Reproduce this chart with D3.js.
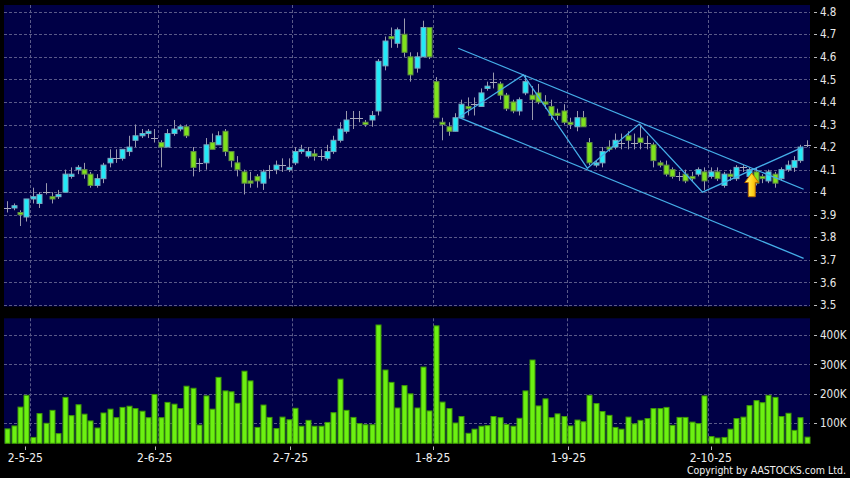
<!DOCTYPE html>
<html><head><meta charset="utf-8">
<script src="https://cdn.jsdelivr.net/npm/d3@7"></script>
<style>body{margin:0;background:#000;} svg{display:block;}</style>
</head><body><svg id="c" width="850" height="478"></svg>
<script>
// ---------- data ----------
const opens  = [3.93,3.93,3.91,3.89,3.97,3.95,4.00,3.98,3.98,4.00, 4.07,4.10,4.10,4.08,4.03,4.06,4.13,4.15,4.15,4.18,
                4.23,4.25,4.26,4.24,4.22,4.20,4.26,4.28,4.29,4.18, 4.13,4.13,4.22,4.21,4.27,4.18,4.13,4.09,4.05,4.07,
                4.04,4.10,4.10,4.12,4.10,4.13,4.18,4.16,4.17,4.16, 4.15,4.18,4.23,4.27,4.33,4.33,4.31,4.32,4.36,4.56,
                4.69,4.66,4.70,4.60,4.55,4.60,4.73,4.49,4.31,4.29, 4.27,4.33,4.38,4.39,4.38,4.46,4.49,4.48,4.43,4.40,
                4.36,4.44,4.43,4.44,4.40,4.38,4.35,4.36,4.31,4.29, 4.33,4.22,4.12,4.13,4.20,4.20,4.22,4.25,4.22,4.24,
                4.22,4.21,4.13,4.12,4.10,4.07,4.08,4.07,4.08,4.09, 4.07,4.09,4.03,4.08,4.06,4.11,4.07,4.09,4.07,4.05,
                4.08,4.06,4.10,4.11,4.14,4.21];
const highs  = [3.96,3.95,3.92,3.97,4.02,4.00,4.04,4.00,4.01,4.10, 4.11,4.12,4.13,4.09,4.08,4.13,4.19,4.19,4.19,4.25,
                4.30,4.28,4.28,4.28,4.23,4.28,4.32,4.30,4.30,4.20, 4.15,4.24,4.26,4.27,4.28,4.18,4.16,4.10,4.09,4.08,
                4.10,4.12,4.14,4.15,4.15,4.20,4.21,4.20,4.19,4.19, 4.21,4.25,4.31,4.36,4.36,4.36,4.32,4.36,4.59,4.69,
                4.73,4.73,4.77,4.62,4.62,4.76,4.73,4.51,4.33,4.31, 4.35,4.41,4.42,4.42,4.46,4.49,4.53,4.49,4.44,4.41,
                4.42,4.52,4.47,4.48,4.43,4.41,4.37,4.39,4.33,4.36, 4.36,4.24,4.14,4.20,4.23,4.26,4.26,4.27,4.26,4.30,
                4.25,4.22,4.14,4.14,4.11,4.09,4.10,4.09,4.11,4.11, 4.11,4.11,4.09,4.10,4.12,4.12,4.11,4.11,4.08,4.10,
                4.09,4.11,4.14,4.16,4.21,4.23];
const lows   = [3.91,3.92,3.85,3.87,3.95,3.93,3.99,3.95,3.97,4.00, 4.06,4.08,4.06,4.02,4.02,4.04,4.11,4.13,4.14,4.16,
                4.20,4.24,4.24,4.22,4.11,4.20,4.25,4.27,4.24,4.07, 4.09,4.10,4.19,4.21,4.16,4.11,4.07,3.99,4.02,4.02,
                4.01,4.06,4.08,4.09,4.09,4.12,4.17,4.15,4.14,4.14, 4.14,4.17,4.22,4.26,4.28,4.31,4.29,4.29,4.34,4.54,
                4.64,4.64,4.60,4.49,4.53,4.60,4.59,4.33,4.23,4.25, 4.27,4.33,4.34,4.34,4.38,4.45,4.46,4.41,4.36,4.35,
                4.34,4.43,4.32,4.39,4.37,4.32,4.32,4.30,4.28,4.27, 4.29,4.12,4.11,4.11,4.18,4.19,4.19,4.19,4.19,4.19,
                4.19,4.11,4.11,4.07,4.06,4.05,4.04,4.05,4.07,4.01, 4.06,4.05,4.02,4.05,4.05,4.09,4.05,4.03,4.04,4.04,
                4.02,4.05,4.09,4.09,4.13,4.20];
const closes = [3.93,3.94,3.90,3.97,3.98,3.99,4.00,3.97,3.99,4.08, 4.08,4.11,4.08,4.03,4.06,4.12,4.15,4.15,4.19,4.20,
                4.25,4.26,4.27,4.24,4.20,4.26,4.28,4.29,4.25,4.11, 4.13,4.21,4.19,4.25,4.18,4.14,4.10,4.04,4.04,4.05,
                4.09,4.10,4.12,4.12,4.11,4.18,4.19,4.18,4.16,4.16, 4.18,4.23,4.28,4.32,4.33,4.33,4.30,4.34,4.58,4.67,
                4.68,4.72,4.62,4.52,4.60,4.73,4.60,4.33,4.30,4.27, 4.33,4.39,4.37,4.39,4.44,4.47,4.49,4.43,4.37,4.36,
                4.41,4.49,4.41,4.40,4.39,4.34,4.34,4.31,4.30,4.33, 4.29,4.13,4.13,4.18,4.19,4.23,4.22,4.23,4.22,4.22,
                4.22,4.14,4.12,4.08,4.07,4.07,4.05,4.06,4.10,4.05, 4.09,4.06,4.08,4.07,4.11,4.11,4.10,4.04,4.06,4.09,
                4.04,4.10,4.12,4.14,4.20,4.21];
// volume in thousands of shares
const volumes = [81,91,155,195,52,133,100,144,65,188, 126,163,131,108,84,135,148,119,154,158,
                 150,141,119,198,119,171,165,150,226,219, 94,193,148,256,210,207,168,277,244,86,
                 162,120,82,121,112,151,90,110,90,90, 103,136,250,144,120,99,95,95,434,281,
                 239,152,228,200,152,291,142,431,172,150, 101,123,66,80,90,92,123,119,96,90,
                 117,210,315,159,183,119,132,123,91,111, 105,195,167,140,127,86,80,121,98,110,
                 116,150,150,154,93,120,120,104,99,193, 55,50,52,80,116,121,160,177,170,195,
                 188,123,134,76,119,53];
const monthStartIndex = [4,24,45,67,88,110];
const monthLabels = ["2-5-25","2-6-25","2-7-25","1-8-25","1-9-25","2-10-25"];
const priceTicks = [3.5,3.6,3.7,3.8,3.9,4.0,4.1,4.2,4.3,4.4,4.5,4.6,4.7,4.8];
const volumeTicks = [100,200,300,400];
const channelUpper = [[70.5,4.638],[124.5,4.013]];
const channelLower = [[70.6,4.332],[124.5,3.707]];
const zigzag = [[70.6,4.332],[80.7,4.52],[90.7,4.106],[98.8,4.302],[108.7,4.0],[124.4,4.20]];
const arrowMark = {index:116.4, tip:4.085, base:3.98};

// ---------- layout ----------
const W=850,H=478;
const L=4,R=810;
const pTop=5, pBot=306.5, vTop=318.3, vBot=443.3;
const n = closes.length;
const svg = d3.select("#c");
svg.append("rect").attr("width",W).attr("height",H).attr("fill","#000");

const x = d3.scaleLinear().domain([-0.5, n-0.5]).range([L,R]);
const xLab = d3.scaleLinear().domain([-0.5, n-0.5]).range([-0.5,814.2]);
const y = d3.scaleLinear().domain([3.5,4.8]).range([305,11.7]);
const yv = d3.scaleLinear().domain([100,400]).range([423.3,335]);
const bw = 5;
const FONT = "'DejaVu Sans Condensed','DejaVu Sans',sans-serif";
const bg = "#000046", gridC = "#5a5a88";

// panels
svg.append("rect").attr("x",L).attr("y",pTop).attr("width",R-L).attr("height",pBot-pTop).attr("fill",bg);
svg.append("rect").attr("x",L).attr("y",vTop).attr("width",R-L).attr("height",vBot-vTop).attr("fill",bg);

// grid price
const gP = svg.append("g").attr("stroke",gridC).attr("stroke-dasharray","3,2").attr("stroke-width",1);
gP.selectAll("line.h").data(priceTicks).join("line")
  .attr("x1",L).attr("x2",R).attr("y1",d=>Math.round(y(d))+0.5).attr("y2",d=>Math.round(y(d))+0.5);
gP.selectAll("line.v").data(monthStartIndex).join("line").attr("class","v")
  .attr("x1",d=>Math.round(x(d-0.5))+0.5).attr("x2",d=>Math.round(x(d-0.5))+0.5).attr("y1",pTop).attr("y2",pBot);
// grid volume
const gV = svg.append("g").attr("stroke",gridC).attr("stroke-dasharray","3,2").attr("stroke-width",1);
gV.selectAll("line.h").data(volumeTicks).join("line")
  .attr("x1",L).attr("x2",R).attr("y1",d=>Math.round(yv(d))+0.5).attr("y2",d=>Math.round(yv(d))+0.5);
gV.selectAll("line.v").data(monthStartIndex).join("line").attr("class","v")
  .attr("x1",d=>Math.round(x(d-0.5))+0.5).attr("x2",d=>Math.round(x(d-0.5))+0.5).attr("y1",vTop).attr("y2",vBot);

// candles
const data = d3.range(n).map(i=>({i,o:opens[i],h:highs[i],l:lows[i],c:closes[i],v:volumes[i]}));
const gc = svg.append("g");
gc.selectAll("line.w").data(data).join("line").attr("class","w")
  .attr("x1",d=>Math.round(x(d.i))+0.5).attr("x2",d=>Math.round(x(d.i))+0.5)
  .attr("y1",d=>y(d.h)).attr("y2",d=>y(d.l)).attr("stroke","#9a9aae").attr("stroke-width",1);
const bodies = data.filter(d=>d.o!==d.c);
gc.selectAll("rect.b").data(bodies).join("rect").attr("class","b")
  .attr("x",d=>Math.round(x(d.i))-bw/2+0.5).attr("width",bw)
  .attr("y",d=>y(Math.max(d.o,d.c))).attr("height",d=>Math.max(1,Math.abs(y(d.o)-y(d.c))))
  .attr("fill",d=>d.c>d.o?"#22eaf7":"#7fe21c")
  .attr("stroke",d=>d.c>d.o?"#7aa6c0":"#5f8c45").attr("stroke-width",1);
const dojis = data.filter(d=>d.o===d.c);
gc.selectAll("line.d").data(dojis).join("line").attr("class","d")
  .attr("x1",d=>Math.round(x(d.i))-3).attr("x2",d=>Math.round(x(d.i))+4)
  .attr("y1",d=>Math.round(y(d.c))+0.5).attr("y2",d=>Math.round(y(d.c))+0.5)
  .attr("stroke","#a8a8bc").attr("stroke-width",1);

// trend lines
const line = d3.line().x(d=>x(d[0])).y(d=>y(d[1]));
const gt = svg.append("g").attr("fill","none").attr("stroke","#45aee8").attr("stroke-width",1.3);
[channelUpper,channelLower,zigzag].forEach(pts=>gt.append("path").attr("d",line(pts)));

// arrow
const defs = svg.append("defs");
const grad = defs.append("linearGradient").attr("id","ag").attr("x1",0).attr("x2",1).attr("y1",0).attr("y2",0);
grad.append("stop").attr("offset","0%").attr("stop-color","#fff27a");
grad.append("stop").attr("offset","55%").attr("stop-color","#ffd21a");
grad.append("stop").attr("offset","100%").attr("stop-color","#e89a00");
{
  const ax=x(arrowMark.index), at=y(arrowMark.tip), ab=y(arrowMark.base);
  const hh=(ab-at)*0.4;
  const p=d3.path();
  p.moveTo(ax,at); p.lineTo(ax+7,at+hh); p.lineTo(ax+3.5,at+hh); p.lineTo(ax+3.5,ab);
  p.lineTo(ax-3.5,ab); p.lineTo(ax-3.5,at+hh); p.lineTo(ax-7,at+hh); p.closePath();
  svg.append("path").attr("d",p.toString()).attr("fill","url(#ag)").attr("stroke","#b86a00").attr("stroke-width",1);
}

// volume bars
svg.append("g").selectAll("rect").data(data).join("rect")
  .attr("x",d=>Math.round(x(d.i))-bw/2+0.5).attr("width",bw)
  .attr("y",d=>yv(d.v)).attr("height",d=>vBot-yv(d.v))
  .attr("fill","#6cf012").attr("stroke","#3e9a06").attr("stroke-width",1);

// right axes
const axP = svg.append("g").attr("font-family",FONT).attr("font-size",11.5).attr("fill","#e8e8e8");
axP.selectAll("text").data(priceTicks).join("text")
  .attr("x",820).attr("y",d=>y(d)).attr("dy","0.36em").text(d=>String(+d.toFixed(1)));
svg.append("g").selectAll("line").data(priceTicks).join("line")
  .attr("x1",814).attr("x2",817).attr("y1",d=>Math.round(y(d))+0.5).attr("y2",d=>Math.round(y(d))+0.5)
  .attr("stroke","#bbbbbb");
const axV = svg.append("g").attr("font-family",FONT).attr("font-size",11.5).attr("fill","#e8e8e8");
axV.selectAll("text").data(volumeTicks).join("text")
  .attr("x",820).attr("y",d=>yv(d)).attr("dy","0.36em").text(d=>d+"K");
svg.append("g").selectAll("line").data(volumeTicks).join("line")
  .attr("x1",814).attr("x2",817).attr("y1",d=>Math.round(yv(d))+0.5).attr("y2",d=>Math.round(yv(d))+0.5)
  .attr("stroke","#bbbbbb");

// bottom date axis
svg.append("g").selectAll("line").data(monthStartIndex).join("line")
  .attr("x1",d=>Math.round(xLab(d-0.5))+0.5).attr("x2",d=>Math.round(xLab(d-0.5))+0.5)
  .attr("y1",446.5).attr("y2",450).attr("stroke","#bbbbbb");
svg.append("g").attr("font-family",FONT).attr("font-size",12).attr("fill","#f0f0f0")
  .selectAll("text").data(monthStartIndex).join("text")
  .attr("x",d=>xLab(d-0.5)).attr("y",461.5).attr("text-anchor","middle").text((d,k)=>monthLabels[k]);

svg.append("text").attr("x",846).attr("y",474).attr("text-anchor","end")
  .attr("font-family",FONT).attr("font-size",10.5).attr("fill","#f0f0f0")
  .text("Copyright by AASTOCKS.com Ltd.");
</script></body></html>
